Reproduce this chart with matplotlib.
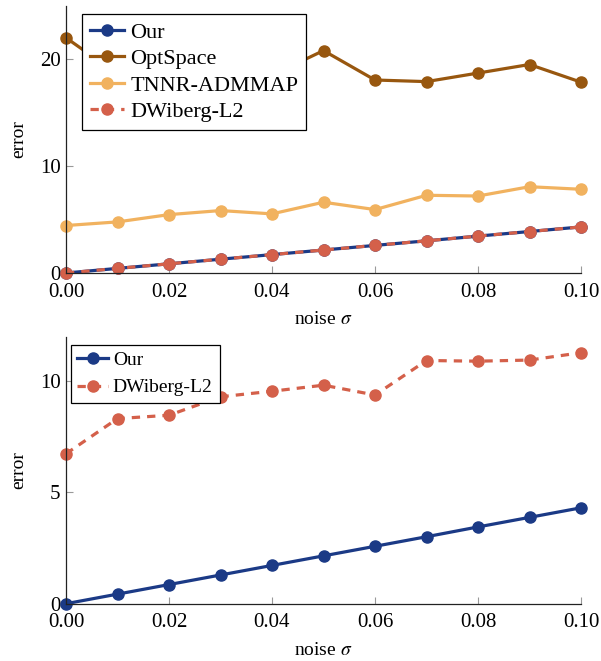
import numpy as np
import matplotlib
matplotlib.use("Agg")
import matplotlib.pyplot as plt

plt.rcParams['font.family'] = ['Liberation Serif', 'DejaVu Serif']
plt.rcParams['mathtext.fontset'] = 'stix'

# data
noise = [0.00, 0.01, 0.02, 0.03, 0.04, 0.05, 0.06, 0.07, 0.08, 0.09, 0.10]
our = [0.0, 0.43, 0.86, 1.29, 1.72, 2.15, 2.58, 3.01, 3.45, 3.88, 4.31]
optspace = [22.0, 18.6, 18.3, 18.0, 18.5, 20.8, 18.05, 17.9, 18.7, 19.5, 17.85]
tnnr = [4.44, 4.78, 5.46, 5.84, 5.53, 6.62, 5.93, 7.27, 7.2, 8.07, 7.83]
dwiberg_top = [0.0, 0.43, 0.86, 1.29, 1.72, 2.15, 2.58, 3.01, 3.45, 3.88, 4.31]
dwiberg_bot = [6.74, 8.32, 8.47, 9.3, 9.55, 9.82, 9.38, 10.93, 10.9, 10.95, 11.28]

top_yticks = [0, 10, 20]
bot_yticks = [0, 5, 10]
xticks = [0.00, 0.02, 0.04, 0.06, 0.08, 0.10]

c_our = '#1b3a86'
c_opt = '#98570f'
c_tnnr = '#f1b25f'
c_dw = '#d4604a'

W, H = 601, 661
fig = plt.figure(figsize=(W / 100, H / 100), dpi=100)

def make_axes(x0, y0, x1, y1):
    return fig.add_axes([x0 / W, 1 - y1 / H, (x1 - x0) / W, (y1 - y0) / H])

def style(ax, ymax, yticks):
    ax.set_xlim(0, 0.1)
    ax.set_ylim(0, ymax)
    ax.spines['top'].set_visible(False)
    ax.spines['right'].set_visible(False)
    for s in ('left', 'bottom'):
        ax.spines[s].set_linewidth(0.9)
        ax.spines[s].set_color('#222222')
    ax.set_xticks(xticks)
    ax.set_xticklabels(['%.2f' % v for v in xticks])
    ax.set_yticks(yticks)
    ax.tick_params(direction='in', length=5, width=0.8, color='#999999',
                   labelsize=15)
    ax.tick_params(axis='x', pad=7)
    ax.tick_params(axis='y', pad=4)
    ax.set_xlabel(r'noise $\sigma$', fontsize=14, labelpad=7)
    ax.set_ylabel('error', fontsize=14, labelpad=9)

def add_legend(ax, anchor, size, spacing):
    leg = ax.legend(loc='upper left', bbox_to_anchor=anchor, fontsize=size,
                    frameon=True, fancybox=False, edgecolor='black', framealpha=1,
                    borderaxespad=0, handlelength=1.55, handletextpad=0.27,
                    labelspacing=spacing, borderpad=0.35)
    leg.get_frame().set_linewidth(0.9)
    return leg

lw, ms = 2.3, 8
kw = dict(lw=lw, marker='o', ms=ms, clip_on=False)
dash = (0, (2.6, 2.2))

ax1 = make_axes(66, 5.7, 581, 273)
ax1.plot(noise, our, color=c_our, label='Our', **kw)
ax1.plot(noise, optspace, color=c_opt, label='OptSpace', **kw)
ax1.plot(noise, tnnr, color=c_tnnr, label='TNNR-ADMMAP', **kw)
ax1.plot(noise, dwiberg_top, color=c_dw, ls=dash, label='DWiberg-L2', **kw)
style(ax1, 25, top_yticks)
add_legend(ax1, (0.031, 0.968), 16, 0.27)

ax2 = make_axes(66, 336.7, 581, 603.7)
ax2.plot(noise, our, color=c_our, label='Our', **kw)
ax2.plot(noise, dwiberg_bot, color=c_dw, ls=dash, label='DWiberg-L2', **kw)
style(ax2, 12, bot_yticks)
add_legend(ax2, (0.009, 0.970), 14, 0.5)

fig.savefig('out.png', dpi=100)
